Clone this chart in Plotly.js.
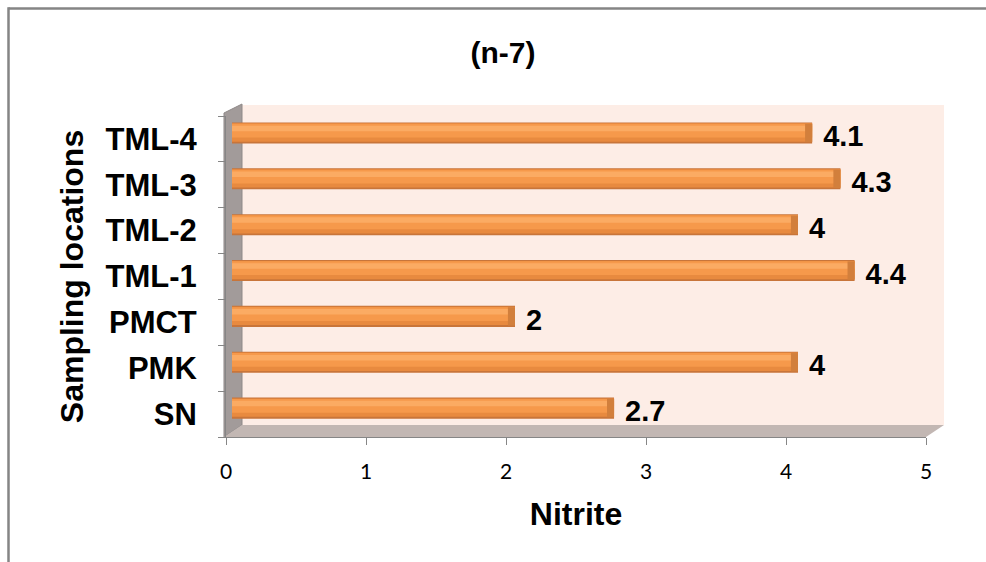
<!DOCTYPE html>
<html>
<head>
<meta charset="utf-8">
<script src="https://cdn.plot.ly/plotly-3.0.1.min.js"></script>
<style>
  html, body { margin: 0; padding: 0; background: #ffffff; }
  #chart { width: 986px; height: 562px; }
</style>
</head>
<body>
<div id="chart"></div>
<script>
// Nitrite levels per sampling location (n-7)
const categories = ['SN', 'PMK', 'PMCT', 'TML-1', 'TML-2', 'TML-3', 'TML-4'];
const nitrite = [2.7, 4, 2, 4.4, 4, 4.3, 4.1];
const xTickValues = [0, 1, 2, 3, 4, 5];
const xTickLabels = ['0', '1', '2', '3', '4', '5'];
const chartTitle = '(n-7)';
const xTitle = 'Nitrite';
const yTitle = 'Sampling locations';

const W = 986, H = 562;
const M = { l: 226, r: 60, t: 116, b: 125 };
const PW = W - M.l - M.r, PH = H - M.t - M.b;
// pixel -> paper helpers for the decorative 3D frame
const px = x => (x - M.l) / PW;
const py = y => (H - M.b - y) / PH;
const pt = (x, y) => px(x).toFixed(5) + ',' + py(y).toFixed(5);

const boldFont = size => ({ family: 'Liberation Sans, Arial, sans-serif', size: size, color: '#000000', weight: 'bold' });

// cylinder-like bars built from stacked bands of the same values
function band(color, offset, width) {
  return {
    type: 'bar', orientation: 'h',
    x: nitrite, y: categories,
    xaxis: 'x2', yaxis: 'y2',
    offset: offset, width: width,
    marker: { color: color, line: { width: 0 } },
    hoverinfo: 'skip', showlegend: false
  };
}
const capLen = 0.05;
const traces = [
  // front-plane axes carry the ticks and category labels
  { type: 'scatter', mode: 'none', x: nitrite, y: categories, xaxis: 'x', yaxis: 'y',
    hoverinfo: 'skip', showlegend: false },
  band('#c8753a', -0.23, 0.46),
  band('#e88a3f', -0.19, 0.40),
  band('#f6994b', -0.10, 0.30),
  band('#fbab63', 0.04, 0.12),
  {
    type: 'bar', orientation: 'h',
    base: nitrite.map(v => v - capLen), x: nitrite.map(() => capLen), y: categories,
    xaxis: 'x2', yaxis: 'y2', offset: -0.2, width: 0.4,
    marker: { color: '#d27f3c', line: { width: 0 } },
    hoverinfo: 'skip', showlegend: false
  },
  // value labels at the end of each bar
  {
    type: 'scatter', mode: 'markers+text',
    x: nitrite, y: categories, xaxis: 'x2', yaxis: 'y',
    text: nitrite.map(v => String(v)),
    textposition: 'middle right',
    textfont: boldFont(29),
    marker: { size: 16, color: 'rgba(0,0,0,0)' },
    cliponaxis: false, hoverinfo: 'skip', showlegend: false
  }
];

const axisGrey = '#868686';
const layout = {
  width: W, height: H,
  margin: M,
  paper_bgcolor: '#ffffff', plot_bgcolor: 'rgba(0,0,0,0)',
  barmode: 'overlay',
  showlegend: false,
  title: {
    text: chartTitle, font: boldFont(30),
    x: 503 / W, xref: 'container', xanchor: 'center',
    y: 1 - 52 / H, yref: 'container', yanchor: 'middle'
  },
  xaxis: {
    range: [0, 5], tickvals: xTickValues, ticktext: xTickLabels,
    showgrid: false, zeroline: false,
    showline: true, linecolor: axisGrey, linewidth: 1,
    ticks: 'outside', ticklen: 7, tickcolor: axisGrey,
    tickfont: { family: 'Lato, sans-serif', size: 21, color: '#000000' },
    ticklabelstandoff: 9,
    title: { text: xTitle, font: boldFont(32), standoff: 20 },
    fixedrange: true
  },
  yaxis: {
    type: 'category', categoryorder: 'array', categoryarray: categories,
    range: [-0.5, 6.5],
    showgrid: false, zeroline: false,
    showline: true, linecolor: axisGrey, linewidth: 1,
    ticks: 'outside', ticklen: 7, tickcolor: axisGrey, tickson: 'boundaries',
    tickfont: boldFont(31),
    ticklabelstandoff: 22,
    title: { text: yTitle, font: boldFont(32), standoff: 12 },
    fixedrange: true
  },
  // bars sit half way into the depth of the frame
  xaxis2: { overlaying: 'x', range: [(M.l - 232) / 141.5, (M.l + PW - 232) / 141.5], visible: false, fixedrange: true },
  yaxis2: { overlaying: 'y', type: 'category', categoryorder: 'array', categoryarray: categories,
            range: [-0.63, 6.37], visible: false, fixedrange: true },
  shapes: [
    // back wall
    { type: 'path', xref: 'paper', yref: 'paper', layer: 'below',
      path: 'M' + pt(242, 105) + 'L' + pt(944, 105) + 'L' + pt(944, 425) + 'L' + pt(242, 425) + 'Z',
      fillcolor: '#fdede6', line: { width: 0 } },
    // side wall
    { type: 'path', xref: 'paper', yref: 'paper', layer: 'below',
      path: 'M' + pt(224, 437) + 'L' + pt(224, 113) + 'L' + pt(242, 104) + 'L' + pt(242, 425) + 'Z',
      fillcolor: '#a29b9a', line: { color: '#8f8988', width: 1 } },
    // floor
    { type: 'path', xref: 'paper', yref: 'paper', layer: 'below',
      path: 'M' + pt(224, 437) + 'L' + pt(926, 437) + 'L' + pt(944, 425) + 'L' + pt(242, 425) + 'Z',
      fillcolor: '#c2b7b3', line: { width: 0 } },
    // outer border (top and left)
    { type: 'line', xref: 'paper', yref: 'paper', x0: px(8.5), x1: px(990), y0: py(8.5), y1: py(8.5),
      line: { color: '#858585', width: 2.5 } },
    { type: 'line', xref: 'paper', yref: 'paper', x0: px(8.5), x1: px(8.5), y0: py(7.3), y1: py(570),
      line: { color: '#858585', width: 2.5 } }
  ]
};

Plotly.newPlot('chart', traces, layout, { displayModeBar: false, staticPlot: true });
</script>
</body>
</html>
